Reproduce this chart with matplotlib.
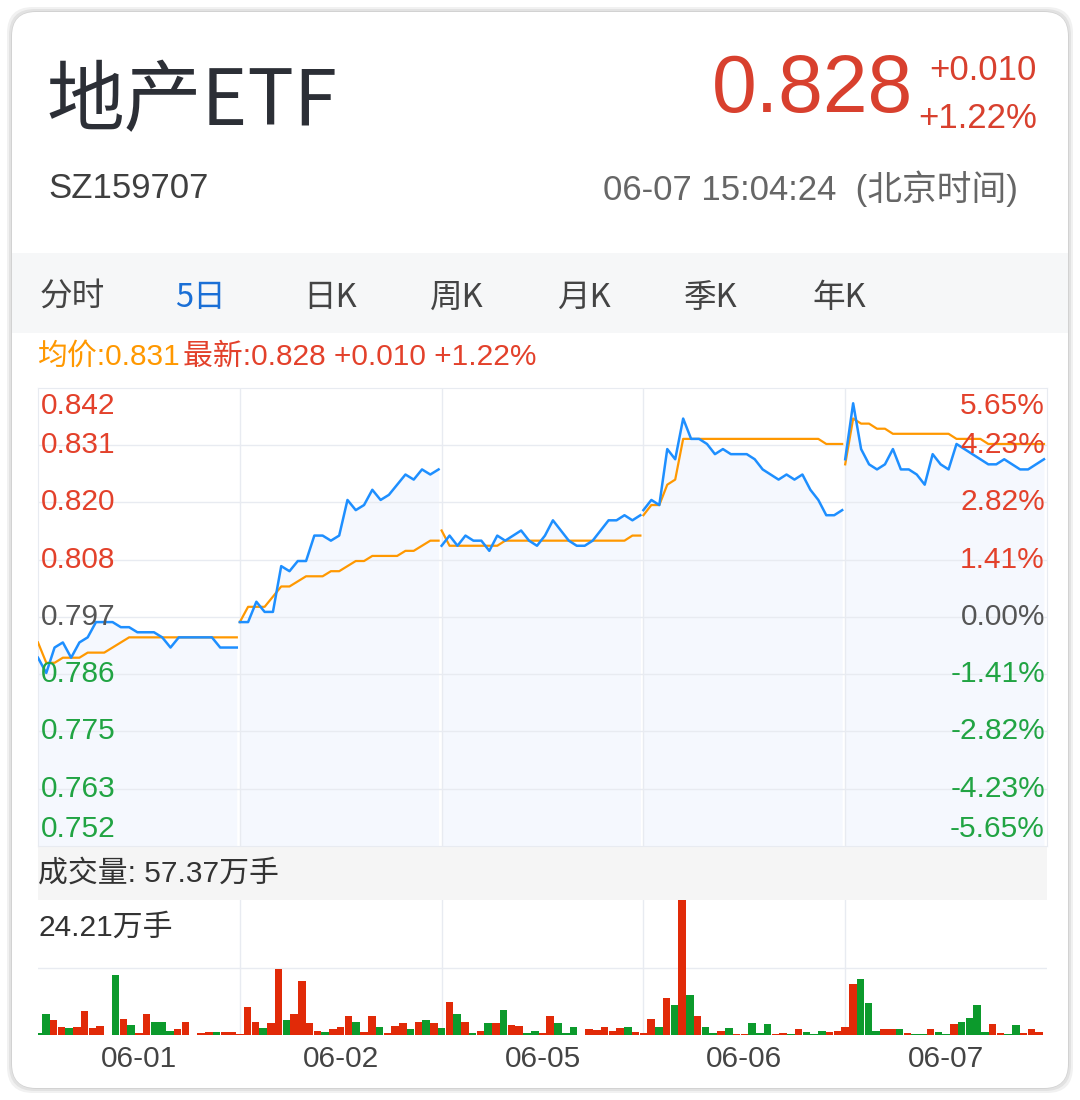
import numpy as np
import matplotlib
matplotlib.use("Agg")
import matplotlib.pyplot as plt
from matplotlib.patches import FancyBboxPatch, Rectangle
from matplotlib.transforms import blended_transform_factory

W, H = 1080, 1100
LAT = ["Liberation Sans", "Noto Sans CJK SC", "DejaVu Sans"]
CJK = ["Noto Sans CJK SC", "DejaVu Sans"]
plt.rcParams["font.family"] = LAT

# ---- data ---------------------------------------------------------------
days = ["06-01", "06-02", "06-05", "06-06", "06-07"]

price_0601 = [0.789, 0.786, 0.791, 0.792, 0.789, 0.792, 0.793, 0.796, 0.796, 0.796, 0.795, 0.795, 0.794,
              0.794, 0.794, 0.793, 0.791, 0.793, 0.793, 0.793, 0.793, 0.793, 0.791, 0.791, 0.791]
avg_0601 = [0.792, 0.788, 0.788, 0.789, 0.789, 0.789, 0.790, 0.790, 0.790, 0.791, 0.792, 0.793, 0.793,
            0.793, 0.793, 0.793, 0.793, 0.793, 0.793, 0.793, 0.793, 0.793, 0.793, 0.793, 0.793]
price_0602 = [0.796, 0.796, 0.800, 0.798, 0.798, 0.807, 0.806, 0.808, 0.808, 0.813, 0.813, 0.812, 0.813,
              0.820, 0.818, 0.819, 0.822, 0.820, 0.821, 0.823, 0.825, 0.824, 0.826, 0.825, 0.826]
avg_0602 = [0.796, 0.799, 0.799, 0.799, 0.801, 0.803, 0.803, 0.804, 0.805, 0.805, 0.805, 0.806, 0.806,
            0.807, 0.808, 0.808, 0.809, 0.809, 0.809, 0.809, 0.810, 0.810, 0.811, 0.812, 0.812]
price_0605 = [0.811, 0.813, 0.811, 0.813, 0.812, 0.812, 0.810, 0.813, 0.812, 0.813, 0.814, 0.812, 0.811,
              0.813, 0.816, 0.814, 0.812, 0.811, 0.811, 0.812, 0.814, 0.816, 0.816, 0.817, 0.816, 0.817]
avg_0605 = [0.814, 0.811, 0.811, 0.811, 0.811, 0.811, 0.811, 0.811, 0.812, 0.812, 0.812, 0.812, 0.812,
            0.812, 0.812, 0.812, 0.812, 0.812, 0.812, 0.812, 0.812, 0.812, 0.812, 0.812, 0.813, 0.813]
price_0606 = [0.818, 0.820, 0.819, 0.830, 0.828, 0.836, 0.832, 0.832, 0.831, 0.829, 0.830, 0.829, 0.829,
              0.829, 0.828, 0.826, 0.825, 0.824, 0.825, 0.824, 0.825, 0.822, 0.820, 0.817, 0.817, 0.818]
avg_0606 = [0.817, 0.819, 0.819, 0.823, 0.824, 0.832, 0.832, 0.832, 0.832, 0.832, 0.832, 0.832, 0.832,
            0.832, 0.832, 0.832, 0.832, 0.832, 0.832, 0.832, 0.832, 0.832, 0.832, 0.831, 0.831, 0.831]
price_0607 = [0.828, 0.839, 0.830, 0.827, 0.826, 0.827, 0.830, 0.826, 0.826, 0.825, 0.823, 0.829, 0.827,
              0.826, 0.831, 0.830, 0.829, 0.828, 0.827, 0.827, 0.828, 0.827, 0.826, 0.826, 0.827, 0.828]
avg_0607 = [0.827, 0.836, 0.835, 0.835, 0.834, 0.834, 0.833, 0.833, 0.833, 0.833, 0.833, 0.833, 0.833,
            0.833, 0.832, 0.832, 0.832, 0.832, 0.831, 0.831, 0.831, 0.831, 0.831, 0.831, 0.831, 0.831]

# volume in 万手, direction u = up (red), d = down (green)
vol_0601 = [0.4, 3.7, 2.7, 1.5, 1.2, 1.5, 4.3, 1.2, 1.7, 0.0, 10.8, 2.8, 1.8,
            0.4, 3.7, 2.4, 2.4, 0.7, 1.1, 2.4, 0.0, 0.3, 0.5, 0.5, 0.5, 0.5]
dir_0601 = "dduud" "uuuuu" "duduu" "ddduu" "uuuduu"
vol_0602 = [0.1, 5.1, 2.4, 1.2, 2.1, 11.8, 2.7, 3.7, 9.6, 2.1, 0.7, 0.5, 1.1,
            1.4, 3.4, 2.4, 0.5, 3.4, 1.5, 0.4, 1.7, 2.1, 1.1, 2.4, 2.7, 2.1]
dir_0602 = "uuudu" "uduuu" "uduuu" "duudu" "uududu"
vol_0605 = [1.2, 6.0, 3.7, 2.4, 0.4, 0.7, 2.1, 2.1, 4.4, 1.8, 1.7, 0.3, 0.7,
            0.4, 3.4, 2.1, 0.4, 1.5, 0.0, 1.1, 0.9, 1.5, 0.7, 1.2, 1.4, 0.5]
dir_0605 = "dudud" "ududu" "udduu" "ddduu" "uuuudu"
vol_0606 = [0.3, 2.8, 1.4, 6.7, 5.4, 24.21, 7.1, 3.4, 1.4, 0.3, 0.7, 1.2, 0.2,
            0.1, 2.1, 0.4, 2.0, 0.1, 0.4, 0.1, 1.0, 0.5, 0.2, 0.7, 0.5, 0.7]
dir_0606 = "uudud" "ududd" "uduud" "dduud" "uddduu"
vol_0607 = [1.4, 9.1, 10.0, 5.7, 0.7, 1.1, 1.1, 1.1, 0.3, 0.1, 0.1, 1.1, 0.6,
            0.1, 2.0, 2.4, 3.0, 5.4, 0.5, 2.0, 0.3, 0.1, 1.8, 0.3, 1.1, 0.5]
dir_0607 = "uuddd" "uudud" "duddu" "ddddu" "udduuu"

prices = [price_0601, price_0602, price_0605, price_0606, price_0607]
avgs = [avg_0601, avg_0602, avg_0605, avg_0606, avg_0607]
vols = [vol_0601, vol_0602, vol_0605, vol_0606, vol_0607]
dirs = [dir_0601, dir_0602, dir_0605, dir_0606, dir_0607]

price_lo, price_hi = 0.752, 0.842
price_labels = ["0.752", "0.763", "0.775", "0.786", "0.797", "0.808", "0.820", "0.831", "0.842"]
pct_labels = ["-5.65%", "-4.23%", "-2.82%", "-1.41%", "0.00%", "1.41%", "2.82%", "4.23%", "5.65%"]
vol_max = 24.21

RED, GREEN, GREY = "#e3412b", "#21a443", "#555555"
BAR_RED, BAR_GREEN = "#e12a08", "#0c9a2c"
BLUE, ORANGE = "#1e8fff", "#ff9800"
GRID = "#e8ebf1"
FS = 21.5


def fx(px):
    return px / W


def fy(py):
    return 1 - py / H


fig = plt.figure(figsize=(W / 100, H / 100), dpi=100)
fig.patch.set_facecolor("white")

# card + soft shadow
for grow, col in [(5, "#f1f1f1"), (3, "#e2e2e2"), (1, "#d2d2d2")]:
    fig.add_artist(FancyBboxPatch((fx(12 - grow), fy(1088 + grow)), fx(1056 + 2 * grow), (1076 + 2 * grow) / H,
                                  boxstyle="round,pad=0,rounding_size=0.024", transform=fig.transFigure,
                                  fc=col, ec="none", zorder=-5))
fig.add_artist(FancyBboxPatch((fx(12), fy(1088)), fx(1056), 1076 / H,
                              boxstyle="round,pad=0,rounding_size=0.022", transform=fig.transFigure,
                              fc="white", ec="none", zorder=-4))
# tab strip and volume title strip
fig.add_artist(Rectangle((fx(12), fy(333)), fx(1056), 80 / H, transform=fig.transFigure,
                         fc="#f6f7f8", ec="none", zorder=-3))
fig.add_artist(Rectangle((fx(38), fy(900)), fx(1009), 54 / H, transform=fig.transFigure,
                         fc="#f5f5f5", ec="none", zorder=-3))

# header
fig.text(fx(46), fy(103), "地产ETF", family=CJK, fontsize=56, color="#2c2f36", va="center")
fig.text(fx(913), fy(91), "0.828", fontsize=58, color="#d8402e", va="center", ha="right")
fig.text(fx(1037), fy(71), "+0.010", fontsize=25, color="#d8402e", va="center", ha="right")
fig.text(fx(1037), fy(118), "+1.22%", fontsize=25, color="#d8402e", va="center", ha="right")
fig.text(fx(48), fy(189), "SZ159707", fontsize=25, color="#3f3f3f", va="center")
fig.text(fx(1018), fy(189), "06-07 15:04:24  (北京时间)", fontsize=25, color="#666666", va="center", ha="right")

tabs = ["分时", "5日", "日K", "周K", "月K", "季K", "年K"]
tab_x = [40, 175, 303, 430, 557, 684, 812]
for t, x in zip(tabs, tab_x):
    fig.text(fx(x), fy(298), t, family=CJK, fontsize=23.5, va="center",
             color="#1a6fd6" if t == "5日" else "#444444")

fig.text(fx(38), fy(357), "均价:0.831", fontsize=FS, color=ORANGE, va="center")
fig.text(fx(183), fy(357), "最新:0.828 +0.010 +1.22%", fontsize=FS, color=RED, va="center")

# ---- price panel --------------------------------------------------------
ax = fig.add_axes([fx(38), fy(846), fx(1009), 458 / H])
ax.set_xlim(0, 5)
ax.set_ylim(price_lo, price_hi)
ax.set_xticks([])
ax.set_yticks([])
for s in ax.spines.values():
    s.set_color(GRID)
ticks = np.linspace(price_lo, price_hi, len(price_labels))
for v in ticks[1:-1]:
    ax.axhline(v, color=GRID, lw=1, zorder=1)
for d in range(1, len(days)):
    ax.axvline(d, color=GRID, lw=1, zorder=1)

for d, (p, a) in enumerate(zip(prices, avgs)):
    x = d + np.linspace(0, 0.985, len(p))
    ax.fill_between(x, p, price_lo, color="#f5f8fe", lw=0, zorder=0.5)
    ax.plot(x, a, color=ORANGE, lw=1.6, zorder=3)
    ax.plot(x, p, color=BLUE, lw=1.8, zorder=4)

tr = blended_transform_factory(ax.transAxes, ax.transData)
n = len(ticks)
for i, (v, lab, pct) in enumerate(zip(ticks, price_labels, pct_labels)):
    col = GREY if i == n // 2 else (RED if i > n // 2 else GREEN)
    va = "top" if i == n - 1 else ("bottom" if i == 0 else "center")
    off = -0.0007 if i == n - 1 else (0.0005 if i == 0 else 0)
    ax.text(0.003, v + off, lab, transform=tr, color=col, fontsize=FS, va=va, ha="left", zorder=5)
    ax.text(0.998, v + off, pct, transform=tr, color=col, fontsize=FS, va=va, ha="right", zorder=5)

# ---- volume panel -------------------------------------------------------
axv = fig.add_axes([fx(38), fy(1035), fx(1009), 135 / H])
axv.set_xlim(0, 5)
axv.set_ylim(0, vol_max)
axv.set_xticks([])
axv.set_yticks([])
for s in axv.spines.values():
    s.set_visible(False)
axv.axhline(vol_max / 2, color=GRID, lw=1, zorder=0)
for d in range(1, len(days)):
    axv.axvline(d, color=GRID, lw=1, zorder=0)
for d, (v, dr) in enumerate(zip(vols, dirs)):
    k = len(v)
    x = d + np.arange(k) / k
    cols = [BAR_RED if c == "u" else BAR_GREEN for c in dr]
    axv.bar(x, v, width=0.97 / k, color=cols, lw=0, zorder=2)

trv = blended_transform_factory(axv.transData, fig.transFigure)
for d, lab in enumerate(days):
    axv.text(d + 0.5, fy(1059), lab, transform=trv, ha="center", va="center", fontsize=FS, color="#444444")
fig.text(fx(38), fy(874), "成交量: 57.37万手", fontsize=FS, color="#333333", va="center")
fig.text(fx(38), fy(928), "24.21万手", fontsize=FS, color="#333333", va="center")

fig.savefig("out.png", dpi=100, facecolor="white")
